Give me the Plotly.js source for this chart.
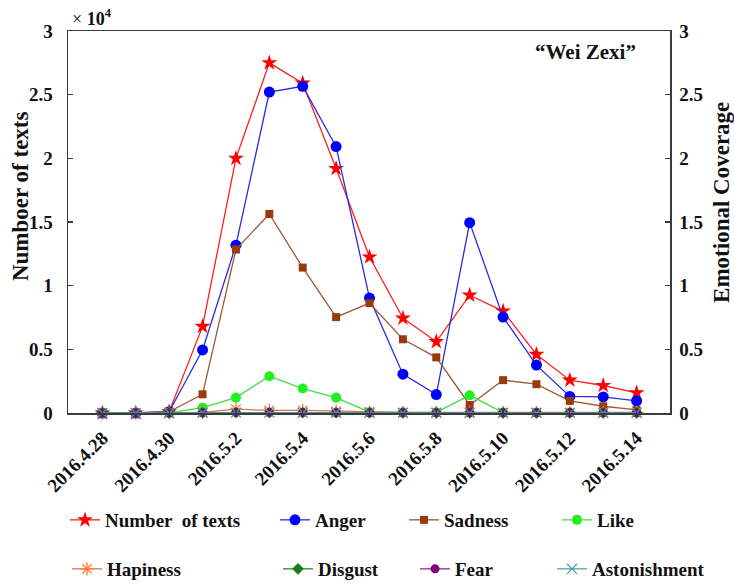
<!DOCTYPE html>
<html>
<head>
<meta charset="utf-8">
<script src="https://cdn.plot.ly/plotly-3.0.1.min.js"></script>
<style>html,body{margin:0;padding:0;background:#fff;}#chart{width:734px;height:584px;}</style>
</head>
<body>
<div id="chart"></div>
<script>
// ---- data ----
var dates = ['2016.4.28','2016.4.29','2016.4.30','2016.5.1','2016.5.2','2016.5.3','2016.5.4','2016.5.5','2016.5.6',
             '2016.5.7','2016.5.8','2016.5.9','2016.5.10','2016.5.11','2016.5.12','2016.5.13','2016.5.14'];
var labeledDates = ['2016.4.28','2016.4.30','2016.5.2','2016.5.4','2016.5.6','2016.5.8','2016.5.10','2016.5.12','2016.5.14'];
var topTickDates = ['2016.4.29','2016.5.1','2016.5.3','2016.5.5','2016.5.7','2016.5.9','2016.5.11','2016.5.13'];

var numberOfTexts = [0, 0, 100, 6800, 20000, 27500, 25900, 19200, 12250, 7450, 5600, 9250, 8000, 4600, 2580, 2160, 1580];
var anger        = [0, 0, 0.01, 0.495, 1.318, 2.52, 2.566, 2.092, 0.903, 0.305, 0.145, 1.495, 0.753, 0.376, 0.13, 0.126, 0.095];
var sadness      = [0, 0, 0.01, 0.147, 1.284, 1.563, 1.142, 0.753, 0.863, 0.579, 0.437, 0.063, 0.258, 0.226, 0.095, 0.053, 0.024];
var like         = [0, 0, 0, 0.042, 0.121, 0.289, 0.192, 0.121, 0.008, 0.005, 0.005, 0.139, 0.003, 0.003, 0.003, 0.003, 0.003];
var hapiness     = [0, 0, 0, 0.005, 0.03, 0.02, 0.02, 0.015, 0.008, 0.005, 0.005, 0.005, 0.005, 0.005, 0.005, 0.005, 0.005];
var disgust      = [0, 0, 0, 0.003, 0.004, 0.004, 0.003, 0.003, 0.002, 0.002, 0.002, 0.002, 0.002, 0.002, 0.002, 0.002, 0.002];
var fear         = [0, 0, 0, 0.002, 0.003, 0.003, 0.003, 0.002, 0.002, 0.002, 0.002, 0.002, 0.002, 0.002, 0.002, 0.002, 0.002];
var astonishment = [0, 0, 0, 0.002, 0.003, 0.003, 0.002, 0.002, 0.002, 0.001, 0.001, 0.001, 0.001, 0.001, 0.001, 0.001, 0.001];

var leftTickVals  = [0, 5000, 10000, 15000, 20000, 25000, 30000];
var leftTickText  = ['0', '0.5', '1', '1.5', '2', '2.5', '3'];
var rightTickVals = [0, 0.5, 1, 1.5, 2, 2.5, 3];
var rightTickText = ['0', '0.5', '1', '1.5', '2', '2.5', '3'];

var seriesNames = ['Number  of texts', 'Anger', 'Sadness', 'Like', 'Hapiness', 'Disgust', 'Fear', 'Astonishment'];
var leftTitle = 'Numboer of texts';
var rightTitle = 'Emotional Coverage';
var chartLabel = '“Wei Zexi”';

// ---- styling ----
var FONT = 'Liberation Serif, Times New Roman, serif';
var AX = '#3a3a3a';

function tr(name, y, yaxis, legendId, lineColor, symbol, mColor, mSize, mLine) {
  return {
    type: 'scatter', mode: 'lines+markers', name: name, x: dates, y: y, yaxis: yaxis,
    legend: legendId, cliponaxis: false,
    line: {color: lineColor, width: 1.3},
    marker: {symbol: symbol, color: mColor, size: mSize, line: mLine || {width: 0}}
  };
}

var traces = [
  tr(seriesNames[0], numberOfTexts, 'y',  'legend',  '#ff2020', 'star', '#ff0000', 12, {width: 0}),
  tr(seriesNames[1], anger,         'y2', 'legend2', '#2a2ae0', 'circle', '#0000ff', 11),
  tr(seriesNames[2], sadness,       'y2', 'legend3', '#a0583a', 'square', '#9a3a0c', 8),
  tr(seriesNames[3], like,          'y2', 'legend4', '#40e040', 'circle', '#22ee22', 10),
  tr(seriesNames[4], hapiness,      'y2', 'legend5', '#cc7a55', 'asterisk-open', '#ff7a30', 11, {color: '#ff7a30', width: 1.3}),
  tr(seriesNames[5], disgust,       'y2', 'legend6', '#2a8a2a', 'diamond', '#1f7a1f', 9),
  tr(seriesNames[6], fear,          'y2', 'legend7', '#8a2a8a', 'circle', '#800080', 9),
  tr(seriesNames[7], astonishment,  'y2', 'legend8', '#4aa6a6', 'x-thin-open', '#3c9c9c', 10, {color: '#3c9c9c', width: 1.3})
];

function leg(xpx, ypx) {
  return {
    xref: 'container', yref: 'container',
    x: xpx / 734, y: 1 - ypx / 584, xanchor: 'left', yanchor: 'middle',
    bgcolor: 'rgba(0,0,0,0)', borderwidth: 0,
    font: {family: FONT, size: 19, color: '#111', weight: 'bold'}
  };
}

var layout = {
  width: 734, height: 584,
  margin: {l: 68, r: 64, t: 31, b: 171, autoexpand: false},
  paper_bgcolor: '#ffffff', plot_bgcolor: '#ffffff',
  font: {family: FONT, size: 18, color: '#111', weight: 'bold'},
  xaxis: {
    type: 'category', range: [-1.03, 17.0],
    tickvals: labeledDates, ticktext: labeledDates, tickangle: -45,
    ticks: 'inside', ticklen: 5, tickcolor: AX, tickwidth: 1.2,
    showline: true, linecolor: AX, linewidth: 1.5, mirror: true,
    showgrid: false, zeroline: false, ticklabelstandoff: 5,
    tickfont: {family: FONT, size: 19, color: '#111', weight: 'bold'}
  },
  xaxis2: {
    overlaying: 'x', side: 'top', anchor: 'y', range: [-1.03, 17.0],
    tickvals: topTickDates.map(function (d) { return dates.indexOf(d); }),
    showticklabels: false, ticks: 'inside', ticklen: 5, tickcolor: AX, tickwidth: 1.2,
    showline: false, showgrid: false, zeroline: false
  },
  yaxis: {
    range: [0, 30000], tickvals: leftTickVals, ticktext: leftTickText,
    ticks: 'inside', ticklen: 5, tickcolor: AX, tickwidth: 1.2,
    showline: true, linecolor: AX, linewidth: 1.5,
    showgrid: false, zeroline: false, ticklabelstandoff: 10,
    tickfont: {family: FONT, size: 19, color: '#111', weight: 'bold'}
  },
  yaxis2: {
    overlaying: 'y', side: 'right', anchor: 'x', range: [0, 3],
    tickvals: rightTickVals, ticktext: rightTickText,
    ticks: 'inside', ticklen: 5, tickcolor: AX, tickwidth: 1.2,
    showline: true, linecolor: AX, linewidth: 1.5,
    showgrid: false, zeroline: false, ticklabelstandoff: 4,
    tickfont: {family: FONT, size: 19, color: '#111', weight: 'bold'}
  },
  legend:  leg(65, 520),
  legend2: leg(275, 520),
  legend3: leg(404, 520),
  legend4: leg(557, 520),
  legend5: leg(67, 569),
  legend6: leg(278, 569),
  legend7: leg(415, 569),
  legend8: leg(552, 569),
  annotations: [
    {xref: 'paper', yref: 'paper', x: -0.0797, y: 0.568, xanchor: 'center', yanchor: 'middle', textangle: -90, showarrow: false,
     text: leftTitle, font: {family: FONT, size: 23, color: '#111', weight: 'bold'}},
    {xref: 'paper', yref: 'paper', x: 1.0864, y: 0.55, xanchor: 'center', yanchor: 'middle', textangle: -90, showarrow: false,
     text: rightTitle, font: {family: FONT, size: 23, color: '#111', weight: 'bold'}},
    {xref: 'paper', yref: 'paper', x: 0.003, y: 1, xanchor: 'left', yanchor: 'bottom', yshift: 0, showarrow: false,
     text: '× <b>10<sup>4</sup></b>', font: {family: FONT, size: 18, color: '#111', weight: 'normal'}},
    {xref: 'paper', yref: 'paper', x: 0.86, y: 0.945, xanchor: 'center', yanchor: 'middle', showarrow: false,
     text: chartLabel, font: {family: FONT, size: 21, color: '#111', weight: 'bold'}}
  ],
  showlegend: true
};

Plotly.newPlot('chart', traces, layout, {displayModeBar: false, staticPlot: true});
</script>
</body>
</html>
